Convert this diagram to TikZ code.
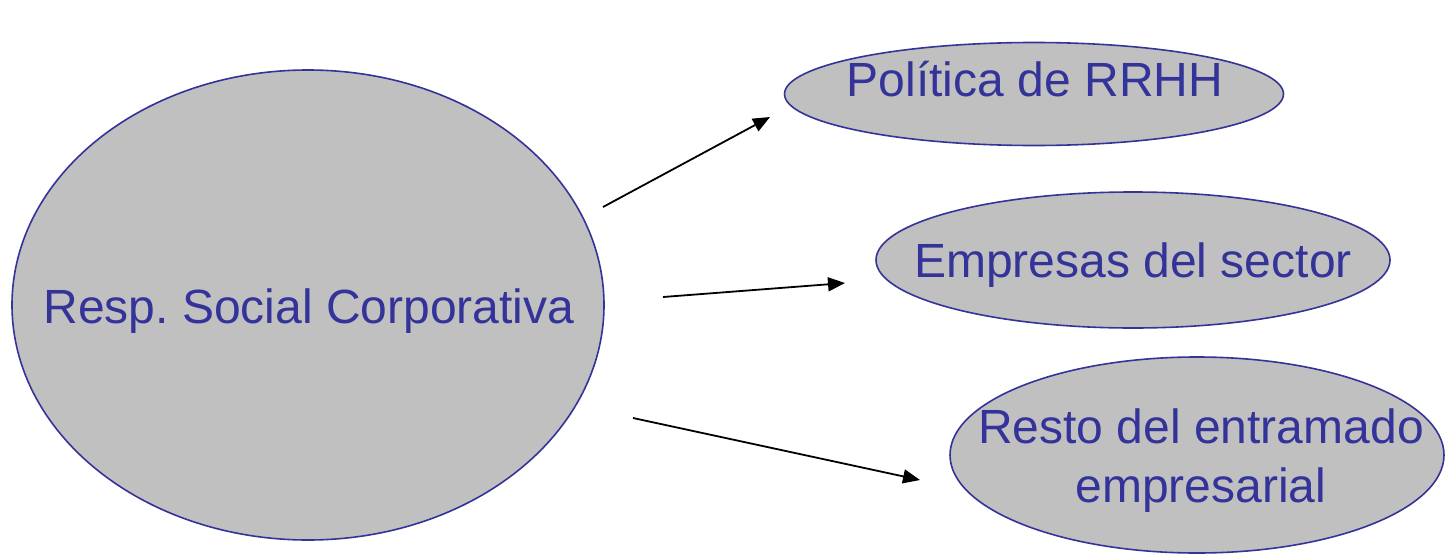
\documentclass[tikz,border=0pt]{standalone}
\usepackage{fontspec}
\setmainfont{Liberation Sans}
\usetikzlibrary{arrows.meta,shapes.geometric}
\definecolor{txtblue}{HTML}{333399}
\definecolor{fillgray}{HTML}{C0C0C0}
\begin{document}
\begin{tikzpicture}[x=1pt,y=-1pt,
  oval/.style={ellipse,draw=txtblue,fill=fillgray,line width=1.6pt,inner sep=0pt},
  lbl/.style={text=txtblue,font=\fontsize{48}{59}\selectfont\frenchspacing,align=center,inner sep=0pt,anchor=base},
  conn/.style={line width=1.8pt,-{Triangle[length=17pt,width=14pt]}}]
\useasboundingbox (0,0) rectangle (1445,554);
\node[oval,minimum width=592,minimum height=470] (rsc) at (308,305) {};
\node[oval,minimum width=499,minimum height=103] (pol) at (1034,94) {};
\node[oval,minimum width=514,minimum height=136] (emp) at (1133,260) {};
\node[oval,minimum width=494,minimum height=196] (res) at (1197,455) {};
\node[lbl] (rsct) at (309,323) {Resp. Social Corporativa};
\node[lbl] (polt) at (1035,96) {Política de RRHH};
\node[lbl] (empt) at (1133,277) {Empresas del sector};
\node[lbl] (rest) at (1201,502) {Resto del entramado\\empresarial};
\coordinate (a1s) at (603,207); \coordinate (a1e) at (770,117);
\coordinate (a2s) at (663,297); \coordinate (a2e) at (845,283);
\coordinate (a3s) at (633,418); \coordinate (a3e) at (920,480);
\draw[conn] (a1s) -- (a1e);
\draw[conn] (a2s) -- (a2e);
\draw[conn] (a3s) -- (a3e);
\end{tikzpicture}
\end{document}
